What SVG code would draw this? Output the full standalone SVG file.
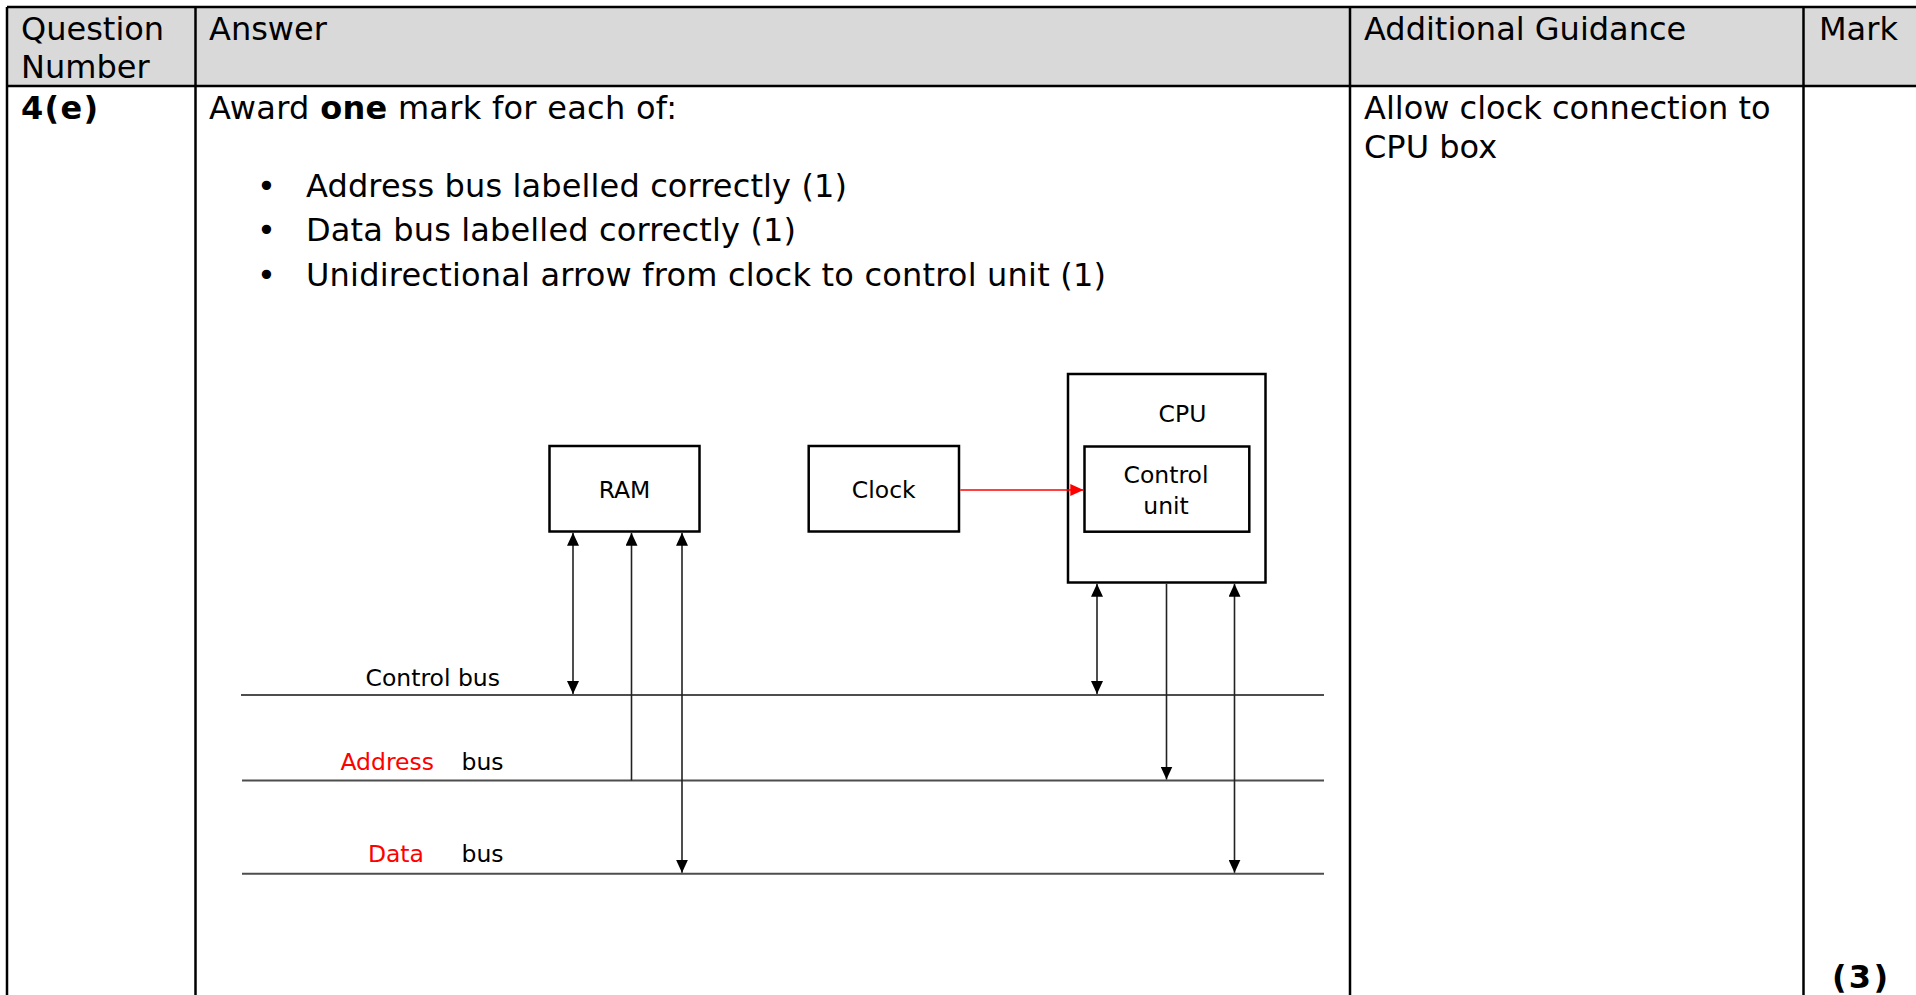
<svg xmlns="http://www.w3.org/2000/svg" width="1916" height="995" viewBox="0 0 1916 995">
  <style>
    .tbl { font-family: "DejaVu Sans", Verdana, sans-serif; font-size: 32px; fill: #000; }
    .b { font-weight: bold; }
    .grid { stroke: #000; stroke-width: 2.5; fill: none; }
    .box { fill: #fff; stroke: #000; stroke-width: 2.5; }
    .lbl { font-family: "DejaVu Sans", Tahoma, sans-serif; font-size: 23.5px; fill: #000; }
    .red { fill: #ff0000; }
    .bus { stroke: #4d4d4d; stroke-width: 2; fill: none; }
    .con { stroke: #222; stroke-width: 1.6; fill: none; }
    .bi { marker-start: url(#ah); marker-end: url(#ah); }
    .uni { marker-end: url(#ah); }
  </style>
  <defs>
    <marker id="ah" markerUnits="userSpaceOnUse" markerWidth="13" markerHeight="12" refX="13" refY="6" orient="auto-start-reverse">
      <path d="M0,0 L13,6 L0,12 Z" fill="#000"/>
    </marker>
    <marker id="ahr" markerUnits="userSpaceOnUse" markerWidth="13" markerHeight="12" refX="13" refY="6" orient="auto">
      <path d="M0,0 L13,6 L0,12 Z" fill="#ff0000"/>
    </marker>
  </defs>

  <rect width="1916" height="995" fill="#fff"/>

  <g id="table">
    <rect x="7" y="7" width="1909" height="79" fill="#d9d9d9"/>
    <line class="grid" x1="7" y1="7" x2="1916" y2="7"/>
    <line class="grid" x1="7" y1="86" x2="1916" y2="86"/>
    <line class="grid" x1="7" y1="7" x2="7" y2="995"/>
    <line class="grid" x1="195.5" y1="7" x2="195.5" y2="995"/>
    <line class="grid" x1="1350" y1="7" x2="1350" y2="995"/>
    <line class="grid" x1="1803.5" y1="7" x2="1803.5" y2="995"/>

    <text class="tbl" x="21" y="40">Question</text>
    <text class="tbl" x="21" y="78">Number</text>
    <text class="tbl" x="209" y="40">Answer</text>
    <text class="tbl" x="1364" y="40">Additional Guidance</text>
    <text class="tbl" x="1819" y="40">Mark</text>

    <text class="tbl b" x="21" y="119" textLength="77" lengthAdjust="spacing">4(e)</text>
    <text class="tbl" x="209" y="119" textLength="468" lengthAdjust="spacing">Award <tspan class="b">one</tspan> mark for each of:</text>
    <text class="tbl" x="266.5" y="197" text-anchor="middle">•</text>
    <text class="tbl" x="306" y="197" textLength="541" lengthAdjust="spacing">Address bus labelled correctly (1)</text>
    <text class="tbl" x="266.5" y="241" text-anchor="middle">•</text>
    <text class="tbl" x="306" y="241" textLength="490" lengthAdjust="spacing">Data bus labelled correctly (1)</text>
    <text class="tbl" x="266.5" y="286" text-anchor="middle">•</text>
    <text class="tbl" x="306" y="286" textLength="800" lengthAdjust="spacing">Unidirectional arrow from clock to control unit (1)</text>

    <text class="tbl" x="1364" y="119">Allow clock connection to</text>
    <text class="tbl" x="1364" y="158">CPU box</text>

    <text class="tbl b" x="1832" y="988" textLength="56" lengthAdjust="spacing">(3)</text>
  </g>

  <g id="control-bus">
    <line class="bus" x1="241" y1="695" x2="1324" y2="695"/>
    <text class="lbl" x="500" y="686" text-anchor="end">Control bus</text>
  </g>
  <g id="address-bus">
    <line class="bus" x1="242" y1="780.5" x2="1324" y2="780.5"/>
    <text class="lbl red" x="434" y="770" text-anchor="end">Address</text>
    <text class="lbl" x="461.5" y="770">bus</text>
  </g>
  <g id="data-bus">
    <line class="bus" x1="242" y1="873.7" x2="1324" y2="873.7"/>
    <text class="lbl red" x="424" y="862" text-anchor="end">Data</text>
    <text class="lbl" x="461.5" y="862">bus</text>
  </g>

  <g id="ram">
    <rect class="box" x="549.5" y="446" width="150" height="85.5"/>
    <text class="lbl" x="624.5" y="498" text-anchor="middle">RAM</text>
  </g>
  <g id="clock">
    <rect class="box" x="808.7" y="446" width="150.3" height="85.5"/>
    <text class="lbl" x="883.8" y="498" text-anchor="middle">Clock</text>
  </g>
  <g id="cpu">
    <rect class="box" x="1068" y="374" width="197.5" height="208.5"/>
    <text class="lbl" x="1182.5" y="421.7" text-anchor="middle">CPU</text>
  </g>
  <g id="control-unit">
    <rect class="box" x="1084.5" y="446.5" width="164.8" height="85.2"/>
    <text class="lbl" x="1166" y="482.7" text-anchor="middle">Control</text>
    <text class="lbl" x="1166" y="514" text-anchor="middle">unit</text>
  </g>

  <g id="connectors">
    <line class="con bi" x1="573" y1="532.8" x2="573" y2="694"/>
    <line class="con uni" x1="631.5" y1="780.5" x2="631.5" y2="532.8"/>
    <line class="con bi" x1="682" y1="532.8" x2="682" y2="872.7"/>
    <line class="con bi" x1="1097" y1="583.8" x2="1097" y2="694"/>
    <line class="con uni" x1="1166.5" y1="583.8" x2="1166.5" y2="779.5"/>
    <line class="con bi" x1="1234.5" y1="583.8" x2="1234.5" y2="872.7"/>
    <line x1="960.3" y1="490" x2="1083.3" y2="490" stroke="#ff0000" stroke-width="1.6" marker-end="url(#ahr)"/>
  </g>
</svg>
